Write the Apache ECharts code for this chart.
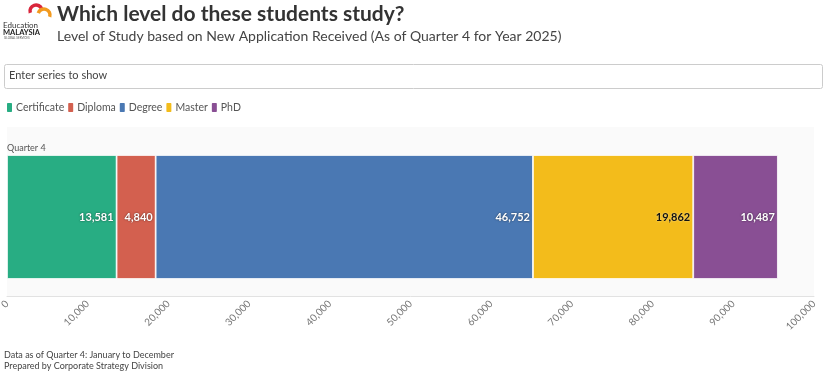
<!DOCTYPE html>
<html>
<head>
<meta charset="utf-8">
<script src="https://cdn.jsdelivr.net/npm/echarts@6/dist/echarts.min.js"></script>
<style>
  html, body { margin: 0; padding: 0; background: #fff; }
  #chart { width: 830px; height: 377px; }
</style>
</head>
<body>
<div id="chart"></div>
<script>
const categories = ['Quarter 4'];
const seriesNames = ['Certificate', 'Diploma', 'Degree', 'Master', 'PhD'];
const seriesValues = [[13581], [4840], [46752], [19862], [10487]];
const colors = ['#28ad83', '#d3604f', '#4a78b3', '#f3bc1b', '#894f94'];
const labelColors = ['#fff', '#fff', '#fff', '#111', '#fff'];
const xTicks = { min: 0, max: 100000, interval: 10000 };

const fontFamily = 'Lato, "Open Sans", sans-serif';
const chart = echarts.init(document.getElementById('chart'));

const series = seriesNames.map((name, i) => ({
  name,
  type: 'bar',
  stack: 'total',
  data: seriesValues[i],
  barWidth: 124,
  itemStyle: { color: colors[i], borderColor: '#fff', borderWidth: 0.8 },
  label: {
    show: true,
    position: 'insideRight',
    distance: 3,
    fontFamily,
    fontSize: 11,
    fontWeight: 'bold',
    color: labelColors[i],
    textShadowColor: labelColors[i] === '#fff' ? 'rgba(0,0,0,0.6)' : 'rgba(255,255,255,0.6)',
    textShadowBlur: 2,
    formatter: p => p.value.toLocaleString('en-US')
  }
}));

const option = {
  backgroundColor: '#fff',
  textStyle: { fontFamily },
  legend: {
    data: seriesNames,
    left: 5,
    top: 101,
    padding: 0,
    icon: 'roundRect',
    itemWidth: 7,
    itemHeight: 11,
    itemGap: 2,
    textStyle: { fontSize: 10.5, color: '#555', fontFamily, padding: [0, 0, 0, -2] }
  },
  grid: {
    left: 7,
    right: 16,
    top: 138,
    bottom: 81,
    borderWidth: 0,
    outerBoundsMode: 'none'
  },
  xAxis: {
    type: 'value',
    min: xTicks.min,
    max: xTicks.max,
    interval: xTicks.interval,
    axisLine: { show: true, lineStyle: { color: '#e2e2e2' } },
    axisTick: { show: false },
    splitLine: { show: false },
    axisLabel: {
      rotate: 45,
      fontSize: 10,
      color: '#777',
      margin: 6,
      fontFamily,
      formatter: v => v.toLocaleString('en-US')
    }
  },
  yAxis: {
    type: 'category',
    data: categories,
    show: false
  },
  series,
  graphic: [
    // plot background
    { type: 'rect', z: -10, shape: { x: 7, y: 127, width: 807, height: 169 }, style: { fill: '#fafafa' } },
    // logo
    { type: 'arc', shape: { cx: 36, cy: 11, r: 6, startAngle: Math.PI * 0.9, endAngle: Math.PI * 1.9 }, style: { stroke: '#d9263c', lineWidth: 3.5, fill: null } },
    { type: 'arc', shape: { cx: 44, cy: 15, r: 6, startAngle: Math.PI * 1.1, endAngle: Math.PI * 2.1 }, style: { stroke: '#f29a1f', lineWidth: 3.5, fill: null } },
    { type: 'text', left: 3, top: 21, style: { text: 'Education', font: '8px ' + fontFamily, fill: '#333' } },
    { type: 'text', left: 3, top: 29, style: { text: 'MALAYSIA', font: 'bold 7.5px ' + fontFamily, fill: '#222' } },
    { type: 'text', left: 4, top: 37, style: { text: 'GLOBAL SERVICES', font: '3px ' + fontFamily, fill: '#555' } },
    // titles
    { type: 'text', left: 57, top: 4, style: { text: 'Which level do these students study?', font: 'bold 21px ' + fontFamily, fill: '#333' } },
    { type: 'text', left: 57, top: 29, style: { text: 'Level of Study based on New Application Received (As of Quarter 4 for Year 2025)', font: '14px ' + fontFamily, fill: '#444' } },
    // search box
    { type: 'rect', shape: { x: 4.5, y: 64.5, width: 818, height: 24, r: 2 }, style: { fill: '#fff', stroke: '#ccc', lineWidth: 1 } },
    { type: 'text', left: 9, top: 70, style: { text: 'Enter series to show', font: '11px ' + fontFamily, fill: '#444' } },
    // category label
    { type: 'text', left: 7, top: 144, style: { text: categories[0], font: '9px ' + fontFamily, fill: '#555' } },
    // footer
    { type: 'text', left: 4, top: 351, style: { text: 'Data as of Quarter 4: January to December', font: '9px ' + fontFamily, fill: '#444' } },
    { type: 'text', left: 4, top: 362, style: { text: 'Prepared by Corporate Strategy Division', font: '9px ' + fontFamily, fill: '#444' } }
  ]
};

chart.setOption(option);
window.addEventListener('resize', () => chart.resize());
</script>
</body>
</html>
